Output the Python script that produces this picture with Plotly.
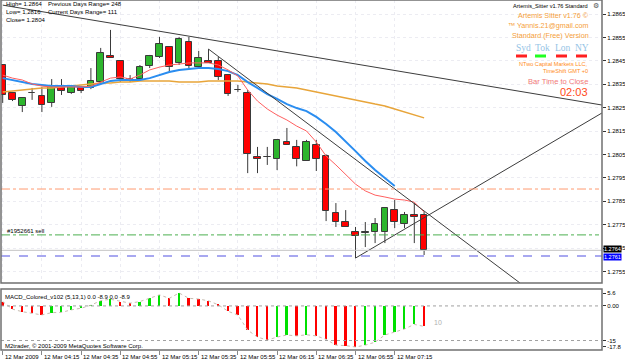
import plotly.graph_objects as go

W, H = 625, 363

# ---------------- data ----------------
times = ["03:55","04:00","04:05","04:10","04:15","04:20","04:25","04:30","04:35","04:40",
         "04:45","04:50","04:55","05:00","05:05","05:10","05:15","05:20","05:25","05:30",
         "05:35","05:40","05:45","05:50","05:55","06:00","06:05","06:10","06:15","06:20",
         "06:25","06:30","06:35","06:40","06:45","06:50","06:55","07:00","07:05","07:10",
         "07:15","07:20","07:25","07:30"]

opens  = [1.28432,1.28312,1.28257,1.28312,1.28300,1.28270,1.28334,1.28312,1.28334,1.28334,
          1.28359,1.28470,1.28449,1.28372,1.28372,1.28428,1.28466,1.28509,1.28441,1.28530,
          1.28423,1.28449,1.28449,1.28389,1.28325,1.28312,1.28039,1.28039,1.28030,1.28103,
          1.28082,1.28022,1.28090,1.28043,1.27800,1.27761,1.27718,1.27714,1.27718,1.27718,
          1.27812,1.27752,1.27791,1.27791]
highs  = [1.28436,1.28317,1.28295,1.28334,1.28338,1.28372,1.28372,1.28347,1.28342,1.28419,
          1.28505,1.28582,1.28453,1.28389,1.28432,1.28475,1.28552,1.28513,1.28552,1.28552,
          1.28492,1.28500,1.28466,1.28393,1.28347,1.28325,1.28082,1.28082,1.28112,1.28163,
          1.28112,1.28112,1.28112,1.28050,1.27842,1.27812,1.27740,1.27761,1.27778,1.27821,
          1.27855,1.27804,1.27842,1.27804]
lows   = [1.28270,1.28278,1.28231,1.28283,1.28231,1.28253,1.28304,1.28308,1.28312,1.28329,
          1.28355,1.28462,1.28359,1.28359,1.28364,1.28419,1.28462,1.28398,1.28432,1.28419,
          1.28419,1.28441,1.28368,1.28300,1.28317,1.27970,1.27970,1.28005,1.27983,1.28090,
          1.27999,1.28022,1.27979,1.27765,1.27740,1.27740,1.27607,1.27654,1.27671,1.27671,
          1.27735,1.27735,1.27671,1.27620]
closes = [1.28304,1.28283,1.28291,1.28314,1.28261,1.28342,1.28321,1.28342,1.28321,1.28364,
          1.28483,1.28462,1.28372,1.28370,1.28423,1.28470,1.28522,1.28423,1.28543,1.28428,
          1.28462,1.28441,1.28381,1.28308,1.28325,1.28052,1.28030,1.28039,1.28112,1.28090,
          1.28030,1.28103,1.28030,1.27808,1.27761,1.27740,1.27701,1.27718,1.27752,1.27821,
          1.27761,1.27791,1.27782,1.27640]

ma_red = [1.28389,1.28376,1.28368,1.28351,1.28342,1.28338,1.28338,1.28338,1.28338,1.28342,
          1.28359,1.28376,1.28381,1.28372,1.28389,1.28411,1.28423,1.28432,1.28436,1.28441,
          1.28441,1.28441,1.28432,1.28411,1.28385,1.28325,1.28278,1.28244,1.28218,1.28197,
          1.28171,1.28150,1.28103,1.28043,1.28005,1.27962,1.27923,1.27894,1.27876,1.27868,
          1.27859,1.27855,1.27846,1.27804]
ma_blue = [1.28376,1.28368,1.28359,1.28351,1.28347,1.28342,1.28342,1.28342,1.28338,1.28338,
           1.28351,1.28364,1.28368,1.28368,1.28368,1.28376,1.28389,1.28402,1.28411,1.28415,
           1.28419,1.28419,1.28415,1.28406,1.28389,1.28359,1.28334,1.28308,1.28287,1.28265,
           1.28248,1.28235,1.28210,1.28180,1.28146,1.28107,1.28064,1.28022,1.27983,1.27949,
           1.27915]
ma_orange = [1.28317,1.28321,1.28325,1.28329,1.28334,1.28334,1.28338,1.28342,1.28347,1.28351,
             1.28355,1.28355,1.28359,1.28359,1.28364,1.28364,1.28364,1.28364,1.28359,1.28359,
             1.28359,1.28364,1.28364,1.28364,1.28364,1.28359,1.28355,1.28351,1.28342,1.28338,
             1.28334,1.28325,1.28317,1.28308,1.28300,1.28291,1.28283,1.28274,1.28265,1.28257,
             1.28244,1.28231,1.28218,1.28206]

macd = [1.9,-1.4,-2.5,-3.2,-3.9,-2.9,-2.8,-1.7,-1.0,0.3,
        2.3,2.9,1.9,1.2,1.9,3.3,4.8,3.3,5.6,3.3,
        3.0,2.2,0.5,-2.3,-4.0,-10.5,-13.5,-14.8,-13.5,-12.6,
        -13.0,-12.5,-13.0,-14.5,-17.0,-17.2,-17.8,-17.0,-15.7,-12.6,
        -11.3,-10.0,-8.0,-8.9]
macd_up = [0,0,0,0,0,1,1,1,1,1,
           1,1,0,0,1,1,1,0,1,0,
           0,0,0,0,0,0,0,0,1,1,
           0,1,0,0,0,0,0,1,1,1,
           1,1,1,0]

price_ticks = [1.2755,1.2765,1.2775,1.2785,1.2795,1.2805,1.2815,1.2825,1.2835,1.2845,1.2855,1.2865]
macd_ticks = [5.6, 0.0, -15, -17.8]
macd_ticktext = ["5.6", "0.00", "-15", "-17.8"]
time_label_idx = [0,4,8,12,16,20,24,28,32,36,40]
time_labels = ["12 Mar 2009","12 Mar 04:15","12 Mar 04:35","12 Mar 04:55","12 Mar 05:15",
               "12 Mar 05:35","12 Mar 05:55","12 Mar 06:15","12 Mar 06:35","12 Mar 06:55","12 Mar 07:15"]

# trend lines: (bar index, price) pairs
trend_lines = [((0, 1.28688), (61.15, 1.28261)),
               ((21, 1.28500), (52.8, 1.27500)),
               ((36, 1.27607), (61.15, 1.28227))]
level_orange = 1.27902
level_green = 1.27706
bid_price = 1.27640
level_blue = 1.27616

# ---------------- layout helpers ----------------
def pxx(x):
    return x / W

def pxy(y):
    return 1 - y / H

n = len(opens)
idx = list(range(n))
X0, DX = 2.7, 9.8
x_left, x_right = 1, 602
xr = [(x_left - X0) / DX, (x_right - X0) / DX]
main_top, main_bot = 0, 283
m_top, m_bot = 289, 350
y_main_range = [1.2865 - (main_bot - 14) / 23400, 1.2865 + 14 / 23400]
macd_px = 2.3
macd_range = [-17.8 - (m_bot - 347) / macd_px, 5.6 + (293 - m_top) / macd_px]

FONT = "Liberation Sans"

fig = go.Figure()

# ---- candles: wicks (outside of body) + bodies ----
wx, wy = [], []
for i in range(n):
    top = max(opens[i], closes[i])
    bot = min(opens[i], closes[i])
    wx += [i, i, None, i, i, None]
    wy += [highs[i], top, None, bot, lows[i], None]
fig.add_trace(go.Scatter(x=wx, y=wy, mode="lines", line=dict(color="#3a3a3a", width=1),
                         xaxis="x", yaxis="y", showlegend=False, hoverinfo="skip"))

min_body = 0.000012
body_base = [min(o, c) for o, c in zip(opens, closes)]
body_h = [max(abs(c - o), min_body) for o, c in zip(opens, closes)]
body_col = ["#2db52d" if c >= o else "#ff0000" for o, c in zip(opens, closes)]
fig.add_trace(go.Bar(x=idx, y=body_h, base=body_base, width=0.68,
                     marker=dict(color=body_col, line=dict(color="#3a3a3a", width=1)),
                     xaxis="x", yaxis="y", showlegend=False, hoverinfo="skip"))

fig.add_trace(go.Scatter(x=idx, y=ma_orange, mode="lines",
                         line=dict(color="#e8a53a", width=1.5), xaxis="x", yaxis="y", showlegend=False))
fig.add_trace(go.Scatter(x=idx[:len(ma_blue)], y=ma_blue, mode="lines",
                         line=dict(color="#2a8df0", width=2), xaxis="x", yaxis="y", showlegend=False))
fig.add_trace(go.Scatter(x=idx, y=ma_red, mode="lines",
                         line=dict(color="#ff6060", width=1), xaxis="x", yaxis="y", showlegend=False))

# MACD histogram
colors = ["#00e000" if u else "#ff0000" for u in macd_up]
fig.add_trace(go.Bar(x=idx, y=macd, marker=dict(color=colors, line=dict(width=0)),
                     width=0.2, xaxis="x2", yaxis="y2", showlegend=False))
fig.add_trace(go.Scatter(x=idx, y=macd, mode="lines",
                         line=dict(color="#c8bcb0", width=1, dash="dot"),
                         xaxis="x2", yaxis="y2", showlegend=False))

shapes = []
for (a, b) in trend_lines:
    shapes.append(dict(type="line", xref="x", yref="y", x0=a[0], y0=a[1], x1=b[0], y1=b[1],
                       line=dict(color="#3c3c3c", width=1)))
shapes.append(dict(type="line", xref="x domain", yref="y", x0=0, x1=0.995, y0=level_orange, y1=level_orange,
                   line=dict(color="#ff9a70", width=1, dash="dashdot")))
shapes.append(dict(type="line", xref="x domain", yref="y", x0=0, x1=0.995, y0=level_green, y1=level_green,
                   line=dict(color="#4caf50", width=1, dash="dashdot")))
shapes.append(dict(type="line", xref="x domain", yref="y", x0=0, x1=1, y0=bid_price, y1=bid_price,
                   line=dict(color="#c4c4c4", width=1)))
shapes.append(dict(type="line", xref="x domain", yref="y", x0=0, x1=1, y0=level_blue, y1=level_blue,
                   line=dict(color="#a8a8f0", width=2, dash="dash")))
for lv in [0.0, -15]:
    shapes.append(dict(type="line", xref="x2 domain", yref="y2", x0=0, x1=1, y0=lv, y1=lv,
                       line=dict(color="#a0a0a0", width=1, dash="dot")))
shapes.append(dict(type="rect", xref="paper", yref="paper", x0=pxx(x_left), x1=pxx(x_right),
                   y0=pxy(main_bot), y1=pxy(main_top), line=dict(color="#707070", width=1.5)))
shapes.append(dict(type="rect", xref="paper", yref="paper", x0=pxx(x_left), x1=pxx(x_right),
                   y0=pxy(m_bot), y1=pxy(m_top), line=dict(color="#707070", width=1.5)))
for xs, col in [(516, "#ff2020"), (535, "#20ff20"), (556, "#ff2020"), (576, "#ff2020")]:
    shapes.append(dict(type="rect", xref="paper", yref="paper", x0=pxx(xs), x1=pxx(xs + 11),
                       y0=pxy(57.5), y1=pxy(54.5), line=dict(width=0), fillcolor=col))

ann = []
def txt(x, y, s, size=6, color="black", anchor="left", family=FONT, bg=None):
    d = dict(x=pxx(x), y=pxy(y), xref="paper", yref="paper", text=s, showarrow=False,
             xanchor=anchor, yanchor="middle", font=dict(size=size, color=color, family=family))
    if bg:
        d.update(bgcolor=bg, borderpad=0)
    ann.append(d)

txt(4, 4.5, "High= 1.2864", 6)
txt(46, 4.5, "Previous Days Range= 248", 6)
txt(4, 12.5, "Low= 1.2816", 6)
txt(46, 12.5, "Current Days Range= 111", 6)
txt(4, 20.5, "Close= 1.2804", 6)

txt(590, 6, "Artemis_Sitter v1.76 Standard", 5.6, anchor="right")
txt(596, 6, "⚙", 7, color="#555555", anchor="center")
txt(591, 15.5, "Artemis Sitter v1.76 ©", 7.2, color="#f5a03a", anchor="right")
txt(591, 25.5, "™ Yannis.21@gmail.com", 7.2, color="#f5a03a", anchor="right")
txt(591, 35.5, "Standard (Free) Version", 7.2, color="#f5a03a", anchor="right")
for xs, s in [(523.5, "Syd"), (542.5, "Tok"), (562.5, "Lon"), (581.5, "NY")]:
    txt(xs, 48, s, 9.5, color="#96c4e6", anchor="center", family="Liberation Serif")
txt(590, 63.5, "NTwo Capital Markets LLC,", 5.6, color="#ff8c1a", anchor="right")
txt(590, 70.5, "TimeShift GMT +0", 5.6, color="#ff8c1a", anchor="right")
txt(590, 81.5, "Bar Time to Close", 7.6, color="#f07878", anchor="right")
txt(590, 92, "02:03", 11, color="#ff4a1a", anchor="right")

txt(5, 231.5, "#1952661 sell", 6)
txt(3, 297, "MACD_Colored_v102 (5,13,1) 0.0 -8.9 0.0 -8.9", 6)
txt(3, 345.5, "M2trader, © 2001-2009 MetaQuotes Software Corp.", 6)
txt(432, 322, "10", 7, color="#b0b0b0")

txt(603, 249, "1.2764", 5.5, color="white", bg="black")
txt(603, 256.5, "1.2761", 5.5, color="white", bg="#0000ff")

for i, s in zip(time_label_idx, time_labels):
    ann.append(dict(x=i, y=pxy(357), xref="x2", yref="paper", text=s, showarrow=False,
                    xanchor="left", yanchor="middle",
                    font=dict(size=6, color="black", family=FONT)))

fig.update_layout(
    width=W, height=H, margin=dict(l=0, r=0, t=0, b=0),
    paper_bgcolor="white", plot_bgcolor="white", showlegend=False,
    barmode="overlay", bargap=0, shapes=shapes, annotations=ann,
    xaxis=dict(domain=[pxx(x_left), pxx(x_right)], range=xr,
               showticklabels=False, showgrid=True, gridcolor="#ececf2", griddash="dot",
               tickvals=time_label_idx, zeroline=False, showline=False, anchor="y"),
    yaxis=dict(domain=[pxy(main_bot), pxy(main_top)], range=y_main_range, side="right",
               tickvals=price_ticks, ticktext=["%.4f" % v for v in price_ticks],
               ticks="outside", ticklen=3, tickcolor="#333333", showline=False,
               showgrid=True, gridcolor="#ececf2", griddash="dot", zeroline=False,
               tickfont=dict(size=6, color="black", family=FONT), anchor="x", automargin=False),
    xaxis2=dict(domain=[pxx(x_left), pxx(x_right)], range=xr, showticklabels=False,
                tickvals=time_label_idx, ticks="outside", ticklen=4, tickcolor="#888888",
                showgrid=False, zeroline=False, anchor="y2", matches="x"),
    yaxis2=dict(domain=[pxy(m_bot), pxy(m_top)], range=macd_range, side="right",
                tickvals=macd_ticks, ticktext=macd_ticktext, ticks="outside", ticklen=3,
                tickcolor="#333333", showgrid=False, zeroline=False,
                tickfont=dict(size=6, color="black", family=FONT), anchor="x2", automargin=False),
)

fig.write_html("out.html")
